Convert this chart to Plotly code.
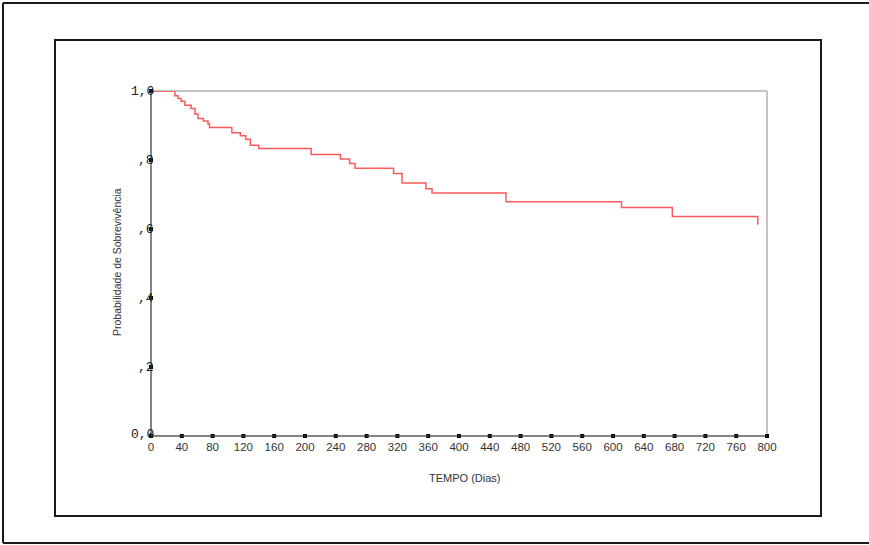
import plotly.graph_objects as go

# Kaplan-Meier survival estimate
tempo = [0, 31, 35, 39, 44, 52, 57, 61, 68, 74, 76, 105, 116, 123, 129, 140,
         208, 246, 258, 265, 315, 326, 357, 365, 461, 611, 677, 788]
sobrevivencia = [1.0, 0.986, 0.978, 0.970, 0.959, 0.949, 0.933, 0.920, 0.913,
                 0.904, 0.894, 0.879, 0.870, 0.860, 0.843, 0.833, 0.816, 0.803,
                 0.790, 0.776, 0.761, 0.733, 0.717, 0.704, 0.679, 0.662, 0.636,
                 0.612]

x_ticks = list(range(0, 801, 40))
y_ticks = [0.0, 0.2, 0.4, 0.6, 0.8, 1.0]
y_tick_labels = ["0,0", ",2", ",4", ",6", ",8", "1,0"]

W, H = 869, 545
L, R, T, B = 151, 767, 91, 436


def px_x(p):
    return (p - L) / (R - L)


def px_y(p):
    return (B - p) / (B - T)


fig = go.Figure()

fig.add_trace(go.Scatter(
    x=tempo, y=sobrevivencia, mode="lines", line_shape="hv",
    line=dict(color="#FF5a5a", width=1.5), showlegend=False, hoverinfo="skip"))

# tick squares
fig.add_trace(go.Scatter(
    x=x_ticks, y=[0] * len(x_ticks), mode="markers", cliponaxis=False,
    marker=dict(symbol="square", size=4, color="black"), showlegend=False,
    hoverinfo="skip"))
fig.add_trace(go.Scatter(
    x=[0] * len(y_ticks), y=y_ticks, mode="markers", cliponaxis=False,
    marker=dict(symbol="square", size=4, color="black"), showlegend=False,
    hoverinfo="skip"))

shapes = [
    # plot box
    dict(type="rect", xref="paper", yref="paper", x0=0, x1=1, y0=0, y1=1,
         line=dict(color="#8a8a8a", width=1), layer="below"),
    # axis lines
    dict(type="line", xref="paper", yref="paper", x0=0, x1=1, y0=0, y1=0,
         line=dict(color="#444444", width=1)),
    dict(type="line", xref="paper", yref="paper", x0=0, x1=0, y0=0, y1=1,
         line=dict(color="#444444", width=1)),
    # inner frame
    dict(type="rect", xref="paper", yref="paper",
         x0=px_x(55), x1=px_x(821), y0=px_y(516), y1=px_y(40),
         line=dict(color="#1a1a1a", width=2)),
    # outer frame (left, top, bottom)
    dict(type="line", xref="paper", yref="paper",
         x0=px_x(3), x1=px_x(3), y0=px_y(543), y1=px_y(3),
         line=dict(color="#1a1a1a", width=2)),
    dict(type="line", xref="paper", yref="paper",
         x0=px_x(3), x1=px_x(900), y0=px_y(3), y1=px_y(3),
         line=dict(color="#1a1a1a", width=2)),
    dict(type="line", xref="paper", yref="paper",
         x0=px_x(3), x1=px_x(900), y0=px_y(543), y1=px_y(543),
         line=dict(color="#1a1a1a", width=2)),
]

annotations = []
for v, lab in zip(y_ticks, y_tick_labels):
    annotations.append(dict(
        x=px_x(156), xref="paper", y=v, yref="y", text=lab, showarrow=False,
        xanchor="right", yanchor="middle", yshift=(2 if v == 0 else 0),
        font=dict(family="Liberation Mono", size=13, color="#222222")))

annotations.append(dict(
    x=px_x(117), xref="paper", y=px_y(262), yref="paper",
    text="Probabilidade de Sobrevivência", textangle=-90, showarrow=False,
    xanchor="center", yanchor="middle",
    font=dict(family="Liberation Sans", size=10.5, color="#333333")))
annotations.append(dict(
    x=px_x(465), xref="paper", y=px_y(478), yref="paper",
    text="TEMPO (Dias)", showarrow=False, xanchor="center", yanchor="middle",
    font=dict(family="Liberation Sans", size=11, color="#333333")))

fig.update_layout(
    width=W, height=H,
    margin=dict(l=L, r=W - R, t=T, b=H - B, pad=0),
    paper_bgcolor="white", plot_bgcolor="white",
    shapes=shapes, annotations=annotations,
    xaxis=dict(range=[0, 800], tickmode="array", tickvals=x_ticks,
               ticktext=[str(v) for v in x_ticks], showgrid=False,
               zeroline=False, showline=False, ticks="", ticklabelstandoff=2,
               tickfont=dict(family="Liberation Sans", size=11.5,
                             color="#333333")),
    yaxis=dict(range=[0, 1], showgrid=False, zeroline=False, showline=False,
               showticklabels=False, ticks=""),
)

fig.write_html("out.html", config={"displayModeBar": False},
               post_script="document.body.style.margin='0';"
                           "document.body.style.overflow='hidden';")
